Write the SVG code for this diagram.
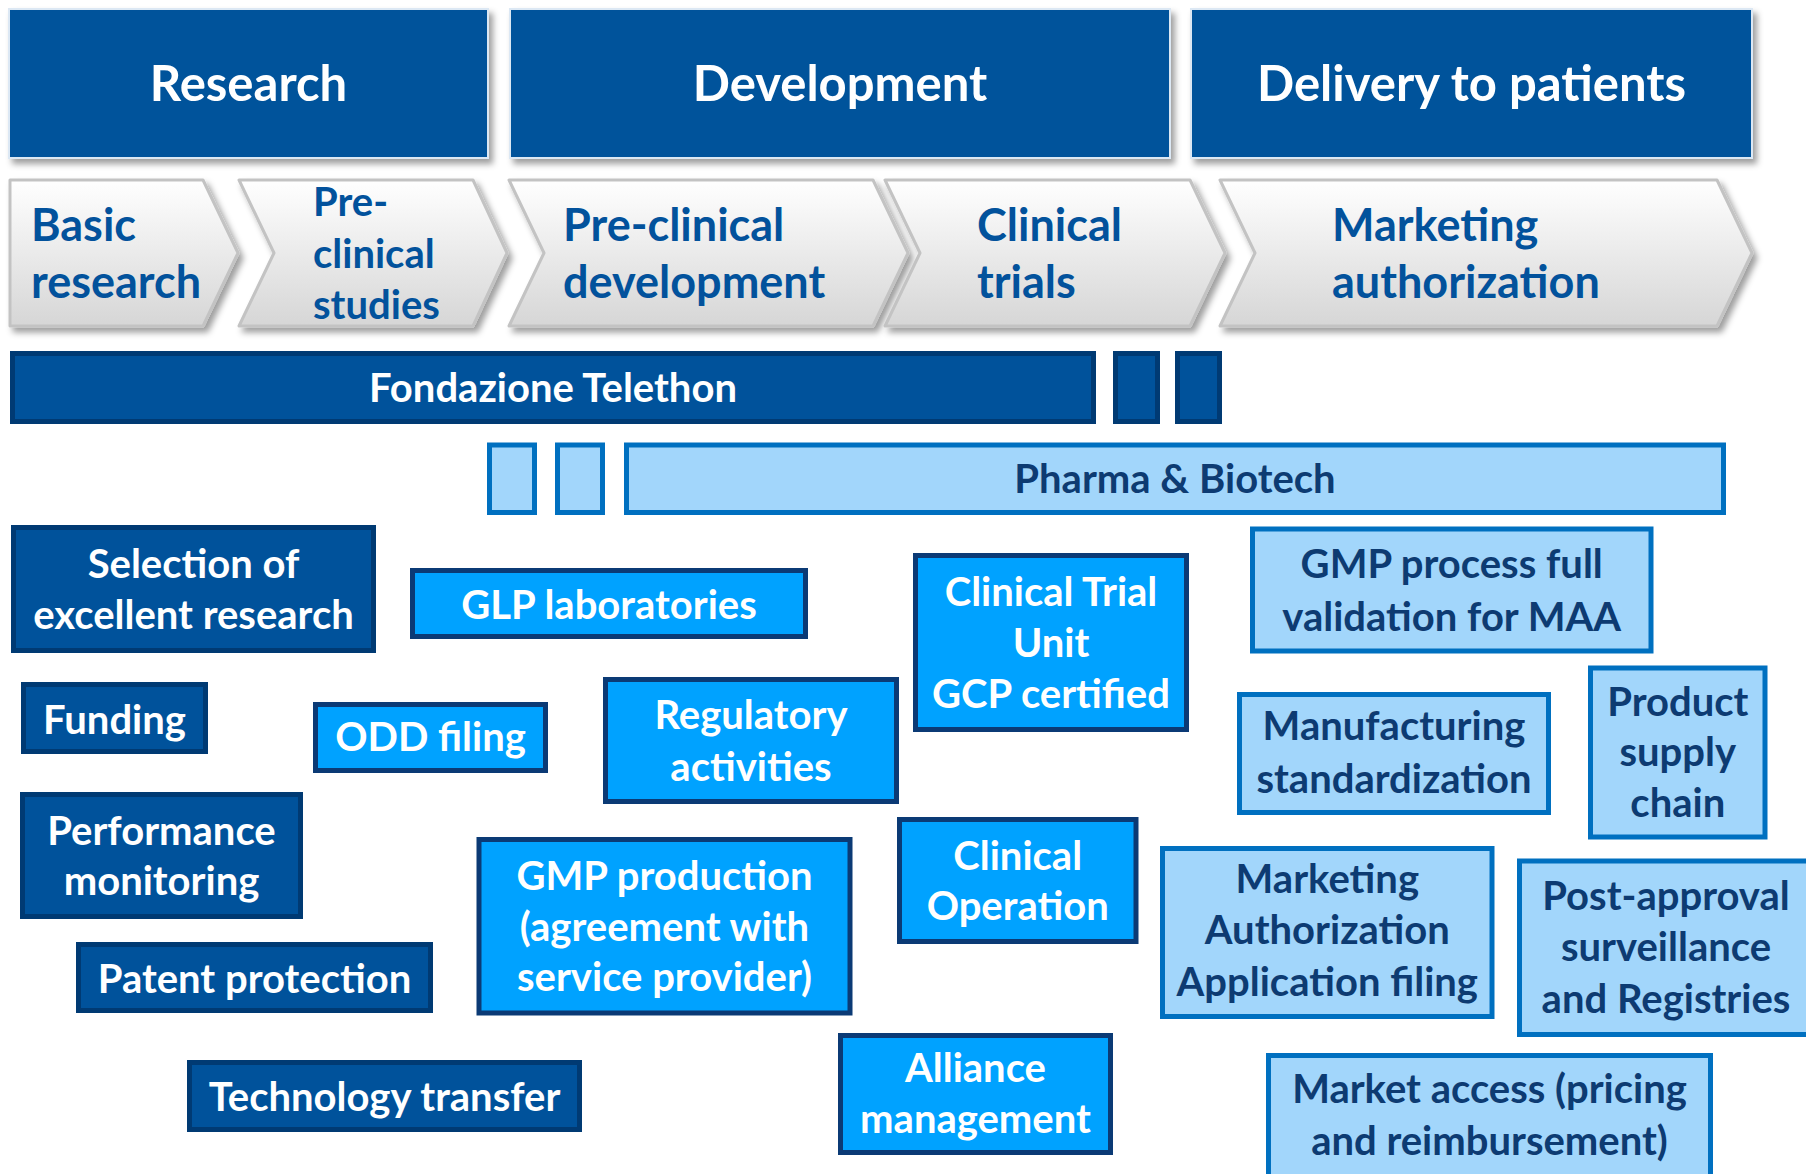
<svg xmlns="http://www.w3.org/2000/svg" width="1806" height="1174" viewBox="0 0 1806 1174">
<defs>
<linearGradient id="chevGrad" x1="0" y1="0" x2="0" y2="1">
<stop offset="0" stop-color="#FFFFFF"/>
<stop offset="1" stop-color="#D6D6D6"/>
</linearGradient>
<filter id="shadow" x="-5%" y="-10%" width="115%" height="130%">
<feDropShadow dx="4" dy="5" stdDeviation="3" flood-color="#000000" flood-opacity="0.38"/>
</filter>
</defs>
<style>
text { font-family: Lato, "Open Sans", "Liberation Sans", sans-serif; font-weight: 700; }
.hdr { fill: #00529B; stroke: #DCE8F4; stroke-width: 2; filter: url(#shadow); }
.hdrTxt { fill: #FFFFFF; font-size: 49px; text-anchor: middle; }
.chev { fill: url(#chevGrad); stroke: #C3C3C3; stroke-width: 3; stroke-linejoin: round; filter: url(#shadow); }
.chevTxt { fill: #02529C; font-size: 45px; }
.dark { fill: #00529B; stroke: #003A73; stroke-width: 5; }
.mid { fill: #00A2FF; stroke: #0B3A75; stroke-width: 5; }
.light { fill: #A2D6FB; stroke: #0070C0; stroke-width: 5; }
.wTxt { fill: #FFFFFF; font-size: 40px; text-anchor: middle; }
.nTxt { fill: #0D3B72; font-size: 40px; text-anchor: middle; }
</style>
<rect width="1806" height="1174" fill="#FFFFFF"/>

<g id="header-research">
<rect class="hdr" x="9" y="9" width="479" height="149"/>
<text class="hdrTxt" x="248.5" y="101">Research</text>
</g>
<g id="header-development">
<rect class="hdr" x="510" y="9" width="660" height="149"/>
<text class="hdrTxt" x="840" y="101">Development</text>
</g>
<g id="header-delivery">
<rect class="hdr" x="1191" y="9" width="561" height="149"/>
<text class="hdrTxt" x="1471.5" y="101">Delivery to patients</text>
</g>

<g id="chev-basic">
<polygon class="chev" points="10,180 203,180 238,253 203,326 10,326"/>
<text class="chevTxt" x="31" y="241">Basic</text>
<text class="chevTxt" x="31" y="298">research</text>
</g>
<g id="chev-preclinical-studies">
<polygon class="chev" points="239,180 473,180 507,253 473,326 239,326 274,253"/>
<text class="chevTxt" x="313" y="216" style="font-size:40px">Pre-</text>
<text class="chevTxt" x="313" y="268" style="font-size:40px">clinical</text>
<text class="chevTxt" x="313" y="319" style="font-size:40px">studies</text>
</g>
<g id="chev-preclinical-development">
<polygon class="chev" points="509,180 873,180 908,253 873,326 509,326 544,253"/>
<text class="chevTxt" x="563" y="241">Pre-clinical</text>
<text class="chevTxt" x="563" y="298">development</text>
</g>
<g id="chev-clinical-trials">
<polygon class="chev" points="885,180 1190,180 1225,253 1190,326 885,326 920,253"/>
<text class="chevTxt" x="977" y="241">Clinical</text>
<text class="chevTxt" x="977" y="298">trials</text>
</g>
<g id="chev-marketing">
<polygon class="chev" points="1220,180 1717,180 1752,253 1717,326 1220,326 1255,253"/>
<text class="chevTxt" x="1332" y="241">Marketing</text>
<text class="chevTxt" x="1332" y="298">authorization</text>
</g>

<g id="bar-telethon">
<rect class="dark" x="12.5" y="353.5" width="1081" height="68"/>
<text class="wTxt" x="553" y="402">Fondazione Telethon</text>
</g>
<g id="bar-telethon-s1">
<rect class="dark" x="1115.5" y="353.5" width="42" height="68"/>
</g>
<g id="bar-telethon-s2">
<rect class="dark" x="1177.5" y="353.5" width="42" height="68"/>
</g>

<g id="bar-pharma-s1">
<rect class="light" x="489.5" y="445" width="45" height="67.5"/>
</g>
<g id="bar-pharma-s2">
<rect class="light" x="557.5" y="445" width="45" height="67.5"/>
</g>
<g id="bar-pharma">
<rect class="light" x="626.5" y="445" width="1097" height="67.5"/>
<text class="nTxt" x="1175" y="493">Pharma &amp; Biotech</text>
</g>

<g id="selection">
<rect class="dark" x="13.5" y="527.5" width="360" height="123"/>
<text class="wTxt" x="193.5" y="578">Selection of</text>
<text class="wTxt" x="193.5" y="629">excellent research</text>
</g>
<g id="funding">
<rect class="dark" x="23.5" y="684.5" width="182" height="67"/>
<text class="wTxt" x="114.5" y="733.5">Funding</text>
</g>
<g id="performance">
<rect class="dark" x="22.5" y="794.5" width="278" height="122"/>
<text class="wTxt" x="161.5" y="844.5">Performance</text>
<text class="wTxt" x="161.5" y="895">monitoring</text>
</g>
<g id="patent">
<rect class="dark" x="78.5" y="944.5" width="352" height="66"/>
<text class="wTxt" x="254.5" y="993">Patent protection</text>
</g>
<g id="techtransfer">
<rect class="dark" x="189.5" y="1062.5" width="390" height="67"/>
<text class="wTxt" x="384.5" y="1111">Technology transfer</text>
</g>

<g id="glp">
<rect class="mid" x="412.5" y="570.5" width="393" height="66"/>
<text class="wTxt" x="609" y="619">GLP laboratories</text>
</g>
<g id="odd">
<rect class="mid" x="315.5" y="704.5" width="230" height="66"/>
<text class="wTxt" x="430.5" y="751">ODD filing</text>
</g>
<g id="regulatory">
<rect class="mid" x="605.5" y="679.5" width="291" height="122"/>
<text class="wTxt" x="751" y="728.5">Regulatory</text>
<text class="wTxt" x="751" y="780.5">activities</text>
</g>
<g id="gmp-production">
<rect class="mid" x="479" y="839.5" width="371" height="173.5"/>
<text class="wTxt" x="664.5" y="890">GMP production</text>
<text class="wTxt" x="664.5" y="940.5">(agreement with</text>
<text class="wTxt" x="664.5" y="991">service provider)</text>
</g>
<g id="ctu">
<rect class="mid" x="915.5" y="555.5" width="271" height="174"/>
<text class="wTxt" x="1051" y="605.5">Clinical Trial</text>
<text class="wTxt" x="1051" y="656.5">Unit</text>
<text class="wTxt" x="1051" y="707.5">GCP certified</text>
</g>
<g id="clinical-operation">
<rect class="mid" x="899.5" y="819.5" width="236.5" height="122"/>
<text class="wTxt" x="1017.7" y="869.5">Clinical</text>
<text class="wTxt" x="1017.7" y="920">Operation</text>
</g>
<g id="alliance">
<rect class="mid" x="840.5" y="1035.5" width="270" height="117"/>
<text class="wTxt" x="975.5" y="1082">Alliance</text>
<text class="wTxt" x="975.5" y="1133">management</text>
</g>

<g id="gmp-validation">
<rect class="light" x="1252.5" y="529" width="398.5" height="122"/>
<text class="nTxt" x="1451.7" y="577.6">GMP process full</text>
<text class="nTxt" x="1451.7" y="630.5">validation for MAA</text>
</g>
<g id="manufacturing">
<rect class="light" x="1239.5" y="694.5" width="309" height="118"/>
<text class="nTxt" x="1394" y="740">Manufacturing</text>
<text class="nTxt" x="1394" y="793">standardization</text>
</g>
<g id="supply">
<rect class="light" x="1590.5" y="668" width="174.5" height="169"/>
<text class="nTxt" x="1677.8" y="716">Product</text>
<text class="nTxt" x="1677.8" y="766">supply</text>
<text class="nTxt" x="1677.8" y="817">chain</text>
</g>
<g id="maa-filing">
<rect class="light" x="1162.5" y="848.5" width="329.5" height="168"/>
<text class="nTxt" x="1327.3" y="892.5">Marketing</text>
<text class="nTxt" x="1327.3" y="944">Authorization</text>
<text class="nTxt" x="1327.3" y="995.5">Application filing</text>
</g>
<g id="post-approval">
<rect class="light" x="1519.5" y="861" width="293" height="173.5"/>
<text class="nTxt" x="1666" y="910">Post-approval</text>
<text class="nTxt" x="1666" y="961">surveillance</text>
<text class="nTxt" x="1666" y="1013">and Registries</text>
</g>
<g id="market-access">
<rect class="light" x="1268.5" y="1055.5" width="442" height="150"/>
<text class="nTxt" x="1489.5" y="1102.7">Market access (pricing</text>
<text class="nTxt" x="1489.5" y="1155">and reimbursement)</text>
</g>

<g id="connectors"></g>
</svg>
